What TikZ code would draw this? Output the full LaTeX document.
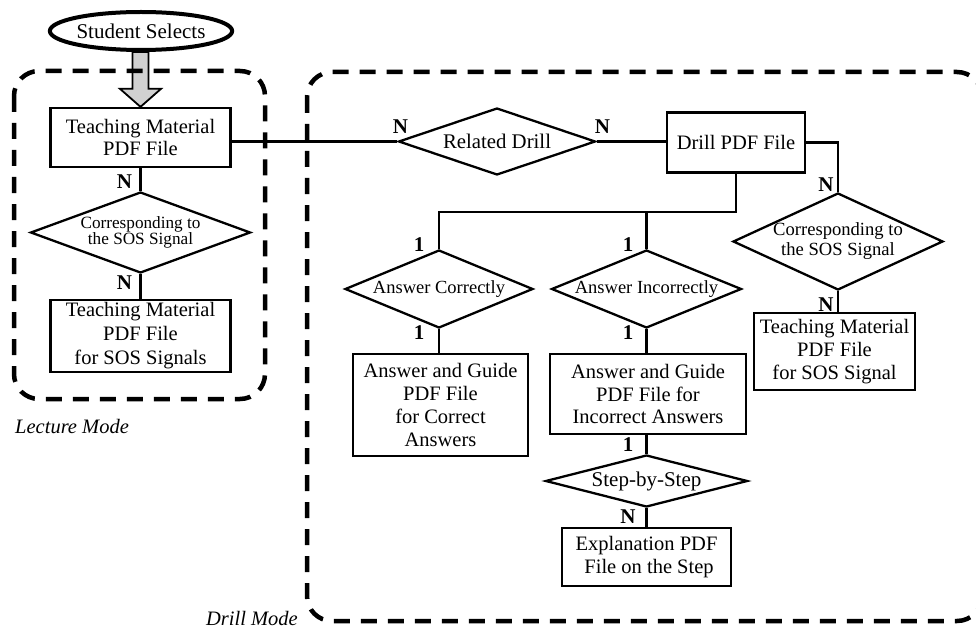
\documentclass[tikz,border=0pt]{standalone}
\usepackage{fontspec}
\setmainfont{Liberation Serif}
\usetikzlibrary{shapes.geometric,calc}
\begin{document}
\begin{tikzpicture}[x=1pt,y=-1pt,
  box/.style={draw, line width=2.3pt, rectangle, align=center, inner sep=0pt,
    font=\fontsize{20.5}{22.7}\selectfont},
  dia/.style={draw, line width=2.3pt, diamond, align=center, inner sep=-6pt,
    font=\fontsize{18.5}{19}\selectfont},
  lbl/.style={font=\bfseries\fontsize{21}{21}\selectfont, inner sep=0pt},
  conn/.style={line width=2.3pt},
  region/.style={draw, line width=4.5pt, dash pattern=on 16pt off 11pt, rounded corners=25pt},
  modecap/.style={font=\itshape\fontsize{20.5}{22}\selectfont, inner sep=0pt},
  bigarrow/.style={draw, line width=1.8pt, fill=black!18, line join=miter}]

\useasboundingbox (0,0) rectangle (976,631);

% start
\node[draw, ellipse, line width=4pt, minimum width=179pt, minimum height=38pt, inner sep=0pt,
  font=\fontsize{21}{21}\selectfont] (ss) at (141,31) {Student Selects};

% lecture mode
\node[box, minimum width=180pt, minimum height=59pt] (tm) at (140.5,137.5) {Teaching Material\\PDF File};
\node[dia, aspect=2.72, minimum width=220pt, minimum height=81pt, font=\fontsize{17.2}{16.5}\selectfont] (cs1) at (140.5,232.5) {Corresponding to\\the SOS Signal};
\node[box, minimum width=180pt, minimum height=72pt, font=\fontsize{20.5}{24}\selectfont] (tms) at (140.5,336) {Teaching Material\\PDF File\\for SOS Signals};

% drill mode
\node[dia, aspect=2.94, minimum width=197pt, minimum height=67pt, font=\fontsize{20.8}{21}\selectfont] (rd) at (497,141.5) {Related Drill};
\node[box, minimum width=138pt, minimum height=60pt] (dp) at (736,142.5) {Drill PDF File};
\node[dia, aspect=2.41, minimum width=188pt, minimum height=78pt] (ac) at (439,289) {Answer Correctly};
\node[dia, aspect=2.44, minimum width=190pt, minimum height=78pt] (ai) at (646.5,289) {Answer Incorrectly};
\node[box, minimum width=175pt, minimum height=102pt] (agc) at (440.5,405) {Answer and Guide\\PDF File\\for Correct\\Answers};
\node[box, minimum width=196pt, minimum height=80pt] (agi) at (648,394) {Answer and Guide\\PDF File for\\Incorrect Answers};
\node[dia, aspect=3.88, minimum width=202pt, minimum height=52pt, font=\fontsize{21}{21}\selectfont] (sbs) at (646.5,481) {Step-by-Step};
\node[box, minimum width=169pt, minimum height=58pt] (exp) at (646.5,557) {Explanation PDF\\\ File on the Step};
\node[dia, aspect=2.16, minimum width=210pt, minimum height=97pt, font=\fontsize{18.6}{20}\selectfont] (cs2) at (838,241.5) {Corresponding to\\the SOS Signal};
\node[box, minimum width=161pt, minimum height=77pt, font=\fontsize{20.5}{23}\selectfont] (tms2) at (834.5,351.5) {Teaching Material\\PDF File\\for SOS Signal};

% big arrow
\draw[bigarrow] ($(tm.north |- ss.south)+(-8,0)$) -- ($(tm.north)+(-8,-18)$) -- ($(tm.north)+(-20.5,-18)$)
  -- (tm.north) -- ($(tm.north)+(20.5,-18)$) -- ($(tm.north)+(8,-18)$) -- ($(tm.north |- ss.south)+(8,0)$) -- cycle;

% regions
\draw[region] (14,71) rectangle (265,399);
\draw[region] (307,72) rectangle (982,621);
\node[modecap, anchor=west] (lm) at (15,427) {Lecture Mode};
\node[modecap, anchor=east] (dm) at (298,618) {Drill Mode};

% connectors
\coordinate (br) at (736,212);
\draw[conn] (tm.south) -- (cs1.north);
\draw[conn] (cs1.south) -- (tms.north);
\draw[conn] (tm.east |- rd.west) -- (rd.west);
\draw[conn] (rd.east) -- (rd.east -| dp.west);
\draw[conn] (dp.south) -- (br) -| (ac.north);
\draw[conn] (ai.north) -- (ai.north |- br);
\draw[conn] (dp.east) -| (cs2.north);
\draw[conn] (cs2.south) -- (cs2.south |- tms2.north);
\draw[conn] (ac.south) -- (ac.south |- agc.north);
\draw[conn] (ai.south) -- (ai.south |- agi.north);
\draw[conn] (sbs.north |- agi.south) -- (sbs.north);
\draw[conn] (sbs.south) -- (sbs.south |- exp.north);

% labels
\node[lbl] (n1) at (124.5,182) {N};
\node[lbl] (n2) at (124.5,283) {N};
\node[lbl] (n3) at (400.5,127) {N};
\node[lbl] (n4) at (602.5,127) {N};
\node[lbl] (n5) at (826,185) {N};
\node[lbl] (n6) at (826,305) {N};
\node[lbl] (n7) at (628,517) {N};
\node[lbl] (o1) at (419,245) {1};
\node[lbl] (o2) at (628,245) {1};
\node[lbl] (o3) at (419,333) {1};
\node[lbl] (o4) at (628,333) {1};
\node[lbl] (o5) at (628,445) {1};
\end{tikzpicture}
\end{document}
